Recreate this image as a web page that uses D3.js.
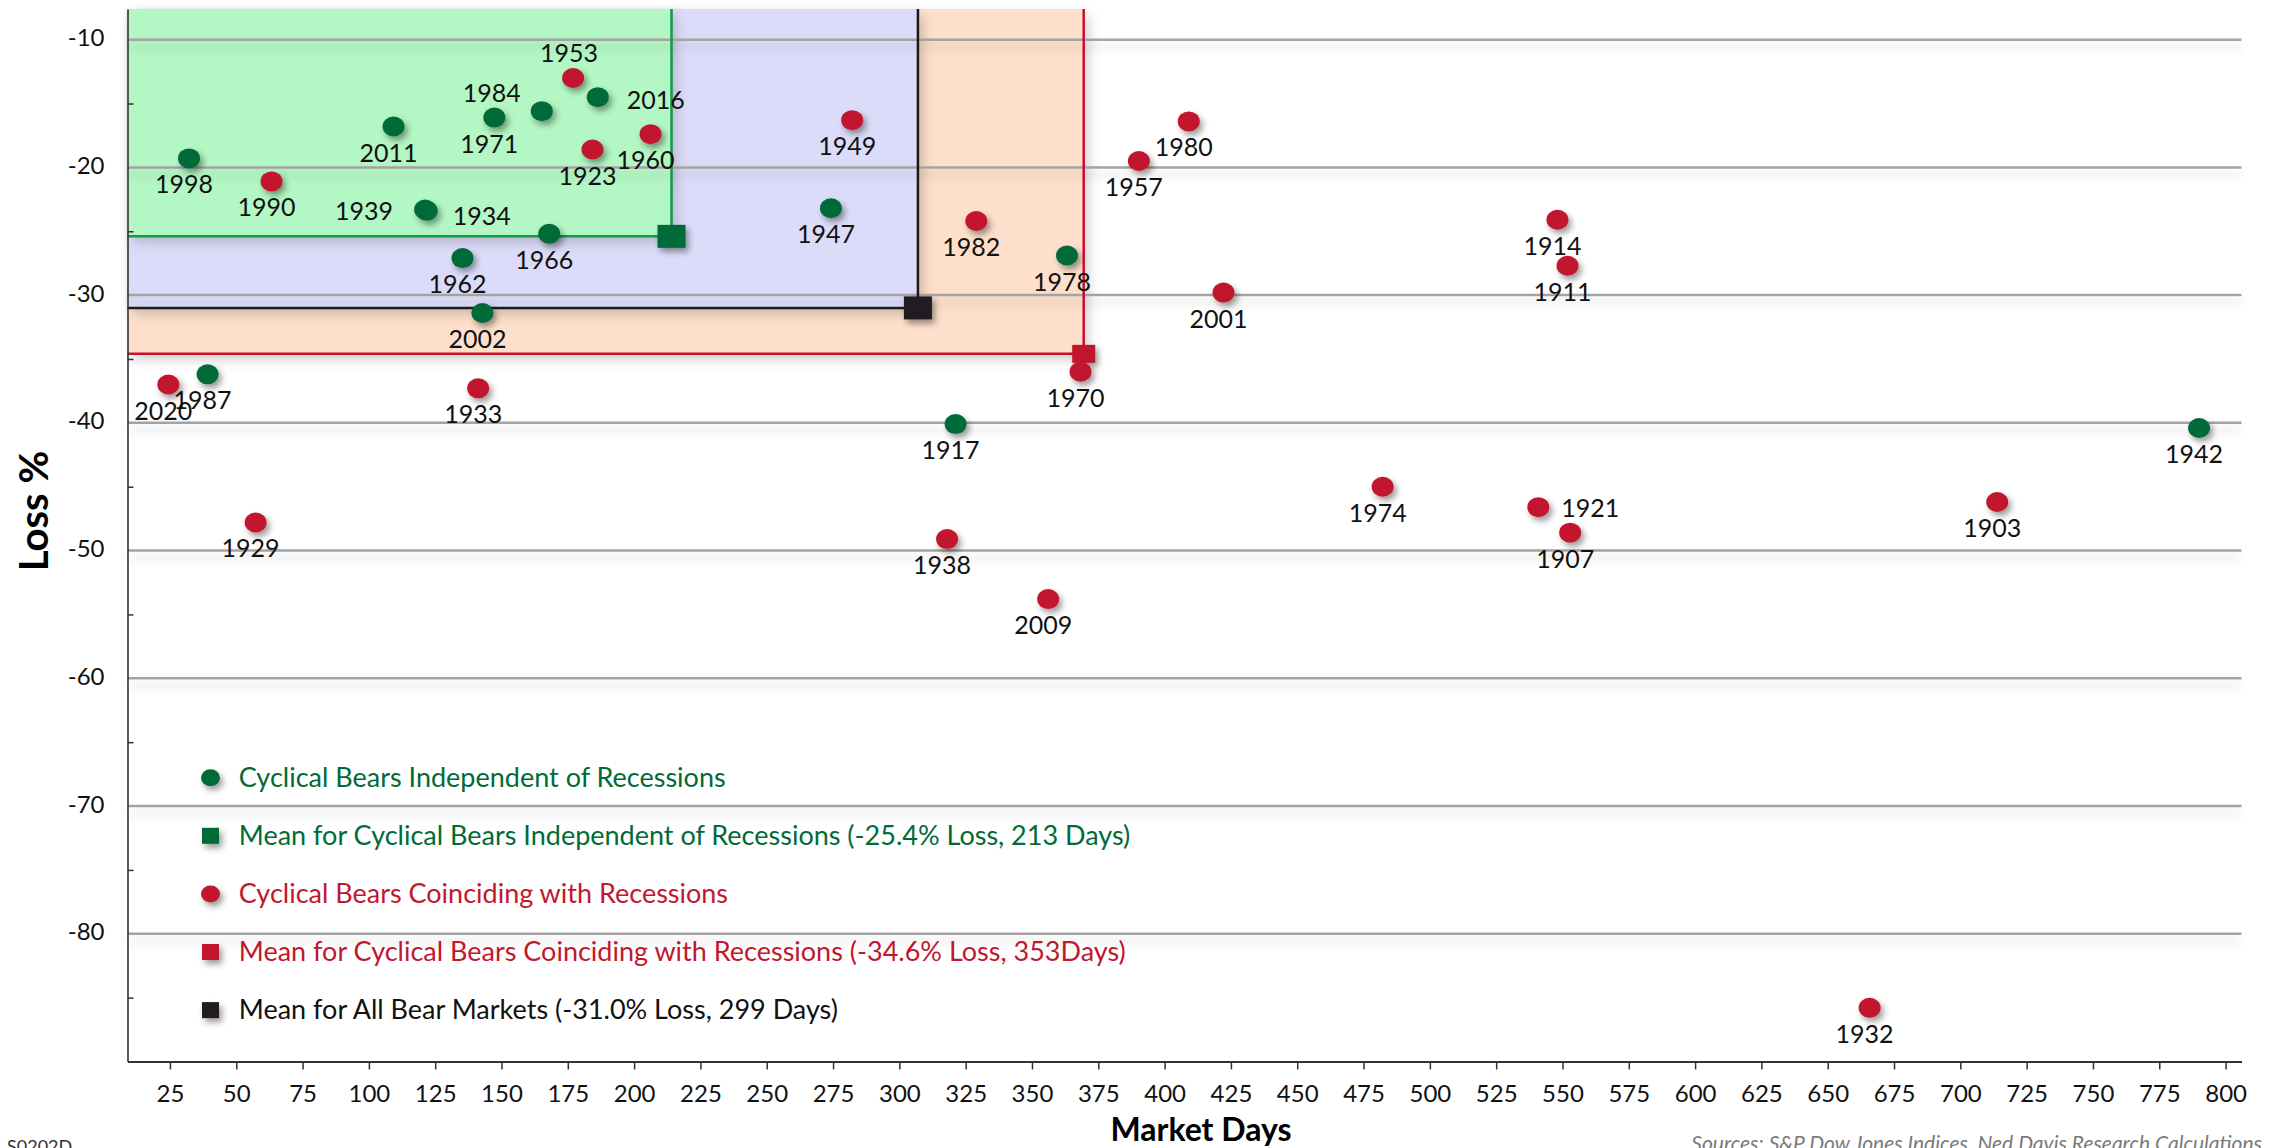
<!DOCTYPE html>
<html><head><meta charset="utf-8">
<script src="https://cdn.jsdelivr.net/npm/d3@7"></script>
<style>
html,body{margin:0;padding:0;background:#fff;overflow:hidden}
svg{display:block}
text{font-family:Lato,"Open Sans",sans-serif}
</style></head><body>
<svg id="chart" width="2275" height="1148"></svg>
<script>
// ---------- DATA ----------
const greenYears = [1998, 2011, 1939, 1934, 1971, 1984, 2016, 1966, 1962, 2002, 1987, 1947, 1978, 1917, 1942];
const greenDays  = [32.2, 109.3, 121.2, 121.8, 147.3, 165.2, 186.3, 168.0, 135.3, 142.8, 39.2, 274.2, 363.2, 321.2, 790.0];
const greenLoss  = [-19.3, -16.8, -23.3, -23.4, -16.1, -15.6, -14.5, -25.2, -27.1, -31.4, -36.2, -23.2, -26.9, -40.1, -40.4];

const redYears = [1990, 1953, 1960, 1923, 2020, 1933, 1949, 1982, 1980, 1957, 2001, 1970, 1914, 1911, 1929, 1974, 1938, 2009, 1921, 1907, 1903, 1932];
const redDays  = [63.3, 177.0, 206.2, 184.3, 24.4, 141.2, 282.2, 329.0, 409.1, 390.3, 422.2, 368.3, 548.1, 551.9, 57.3, 482.2, 318.0, 356.1, 540.9, 552.9, 713.9, 665.8];
const redLoss  = [-21.1, -13.0, -17.4, -18.6, -37.0, -37.3, -16.3, -24.2, -16.4, -19.5, -29.8, -36.0, -24.1, -27.7, -47.8, -45.0, -49.1, -53.8, -46.6, -48.6, -46.2, -85.8];

const meanNames = ["red", "all", "green"];
const meanDays  = [369.5, 307.0, 214.1];
const meanLoss  = [-34.6, -31.0, -25.4];

const xTicks = d3.range(25, 801, 25);
const yTicks = [-10, -20, -30, -40, -50, -60, -70, -80];
const yMinorTicks = [-15, -25, -35, -45, -55, -65, -75, -85];

const legendLabels = [
  "Cyclical Bears Independent of Recessions",
  "Mean for Cyclical Bears Independent of Recessions (-25.4% Loss, 213 Days)",
  "Cyclical Bears Coinciding with Recessions",
  "Mean for Cyclical Bears Coinciding with Recessions (-34.6% Loss, 353Days)",
  "Mean for All Bear Markets (-31.0% Loss, 299 Days)"
];

// ---------- STYLE / LAYOUT ----------
const C = {
  green: "#006b37", red: "#c1182d", black: "#231f20",
  greenLine: "#119a48", redLine: "#c8102e", blackLine: "#1a1a1a",
  greenFill: "#b3f7c4", blueFill: "#dcdcfa", orangeFill: "#fddfcb",
  grid: "#a3a3a3"
};
const legendKinds = [["circle", C.green], ["square", C.green], ["circle", C.red], ["square", C.red], ["square", C.black]];
const labelPlace = {1953: [-4, -16], 1984: [-50, -9], 2016: [58, 12], 1939: [-61, 10], 1934: [55, 14], 1921: [52, 10]};
const defaultPlace = [-5, 35];

const svg = d3.select("#chart");
const x = d3.scaleLinear().domain([9, 806]).range([127.5, 2241.5]);
const y = d3.scaleLinear().domain([-90, -7.6]).range([1061.5, 9]);

const defs = svg.append("defs");
function dropShadow(id, dx, dy, sd, op) {
  const f = defs.append("filter").attr("id", id).attr("filterUnits", "userSpaceOnUse")
    .attr("x", 0).attr("y", 0).attr("width", 2275).attr("height", 1148);
  f.append("feDropShadow").attr("dx", dx).attr("dy", dy).attr("stdDeviation", sd)
    .attr("flood-color", "#000").attr("flood-opacity", op);
}
dropShadow("dotShadow", 3, 4, 3, 0.4);
dropShadow("gridShadow", 0, 7, 5, 0.16);
dropShadow("rectShadow", 5, 6, 6, 0.18);

svg.append("rect").attr("width", 2275).attr("height", 1148).attr("fill", "#fff");

// ---------- shaded regions ----------
const regionIdx = [0, 1, 2]; // red (orange), all (blue), green
const regionFill = [C.orangeFill, C.blueFill, C.greenFill];
const regionLine = [C.redLine, C.blackLine, C.greenLine];
const gReg = svg.append("g");
regionIdx.forEach(i => {
  gReg.append("rect")
    .attr("x", x(9)).attr("y", y(-7.6))
    .attr("width", x(meanDays[i]) - x(9))
    .attr("height", y(meanLoss[i]) - y(-7.6))
    .attr("fill", regionFill[i])
    .attr("filter", "url(#rectShadow)");
});

// ---------- gridlines ----------
svg.append("g").attr("filter", "url(#gridShadow)")
  .selectAll("line").data(yTicks).join("line")
  .attr("x1", x(9)).attr("x2", x(806))
  .attr("y1", d => y(d)).attr("y2", d => y(d))
  .attr("stroke", C.grid).attr("stroke-width", 2.5);

// ---------- region border lines ----------
const gLines = svg.append("g");
regionIdx.forEach(i => {
  gLines.append("path")
    .attr("d", `M${x(9)},${y(meanLoss[i])}H${x(meanDays[i])}V${y(-7.6)}`)
    .attr("fill", "none").attr("stroke", regionLine[i]).attr("stroke-width", 2.5);
});

// ---------- axes ----------
const xAxis = svg.append("g").attr("transform", `translate(0,${y(-90)})`)
  .call(d3.axisBottom(x).tickValues(xTicks).tickSize(8).tickSizeOuter(0).tickFormat(d => String(d)));
xAxis.select(".domain").attr("stroke", "#333").attr("stroke-width", 2.2);
xAxis.selectAll(".tick line").attr("stroke", "#333").attr("stroke-width", 1.5);
xAxis.selectAll(".tick text").attr("y", 23).attr("font-size", 24).attr("fill", "#111")
  .attr("font-family", "Lato, sans-serif");

const yAxis = svg.append("g").attr("transform", `translate(${x(9)},0)`)
  .call(d3.axisLeft(y).tickValues(yTicks).tickSize(0).tickPadding(23).tickFormat(d => String(d)));
yAxis.select(".domain").attr("stroke", "#333").attr("stroke-width", 1.6);
yAxis.selectAll(".tick text").attr("font-size", 24).attr("fill", "#111").attr("dy", "0.25em")
  .attr("font-family", "Lato, sans-serif");

const yMinor = svg.append("g").attr("transform", `translate(${x(9)},0)`)
  .call(d3.axisRight(y).tickValues(yMinorTicks).tickSize(6).tickFormat(""));
yMinor.select(".domain").remove();
yMinor.selectAll(".tick line").attr("stroke", "#333").attr("stroke-width", 1.5);

// ---------- mean squares ----------
const sqW = [23, 28, 28], sqH = [18, 23, 23];
const sqFill = [C.red, C.black, C.green];
svg.append("g").attr("filter", "url(#dotShadow)")
  .selectAll("rect").data(meanNames).join("rect")
  .attr("x", (d, i) => x(meanDays[i]) - sqW[i] / 2)
  .attr("y", (d, i) => y(meanLoss[i]) - sqH[i] / 2)
  .attr("width", (d, i) => sqW[i]).attr("height", (d, i) => sqH[i])
  .attr("fill", (d, i) => sqFill[i]);

// ---------- points ----------
const greenPts = greenYears.map((yr, i) => ({yr, d: greenDays[i], l: greenLoss[i], c: C.green}));
const redPts = redYears.map((yr, i) => ({yr, d: redDays[i], l: redLoss[i], c: C.red}));
const allPts = greenPts.concat(redPts);

svg.append("g").attr("filter", "url(#dotShadow)")
  .selectAll("ellipse").data(allPts).join("ellipse")
  .attr("cx", p => x(p.d)).attr("cy", p => y(p.l))
  .attr("rx", 11).attr("ry", 10)
  .attr("fill", p => p.c);

svg.append("g").selectAll("text").data(allPts).join("text")
  .attr("x", p => x(p.d) + (labelPlace[p.yr] || defaultPlace)[0])
  .attr("y", p => y(p.l) + (labelPlace[p.yr] || defaultPlace)[1])
  .attr("text-anchor", "middle").attr("font-size", 25).attr("fill", "#111")
  .text(p => p.yr);

// ---------- legend ----------
const lg = svg.append("g");
legendLabels.forEach((t, i) => {
  const cy = 777.7 + i * 58.1;
  const [kind, col] = legendKinds[i];
  if (kind === "circle") {
    lg.append("ellipse").attr("cx", 210.5).attr("cy", cy).attr("rx", 9.5).attr("ry", 8.5)
      .attr("fill", col).attr("filter", "url(#dotShadow)");
  } else {
    lg.append("rect").attr("x", 210.5 - 8.5).attr("y", cy - 8).attr("width", 17).attr("height", 16)
      .attr("fill", col).attr("filter", "url(#dotShadow)");
  }
  lg.append("text").attr("x", 238.8).attr("y", cy + 9).attr("font-size", 27)
    .attr("fill", col === C.black ? "#111" : col).text(t);
});

// ---------- titles ----------
svg.append("text").attr("transform", "translate(48,511) rotate(-90)")
  .attr("text-anchor", "middle").attr("font-size", 40).attr("font-weight", 700).attr("fill", "#000")
  .text("Loss %");
svg.append("text").attr("x", 1201).attr("y", 1141).attr("text-anchor", "middle")
  .attr("font-size", 32).attr("font-weight", 700).attr("fill", "#000").text("Market Days");
svg.append("text").attr("x", 2262).attr("y", 1151).attr("text-anchor", "end")
  .attr("font-size", 21).attr("font-style", "italic").attr("fill", "#7a7a7a")
  .text("Sources: S&P Dow Jones Indices, Ned Davis Research Calculations");
svg.append("text").attr("x", 7).attr("y", 1153).attr("font-size", 18).attr("fill", "#333").text("S0202D");
</script>
</body></html>
